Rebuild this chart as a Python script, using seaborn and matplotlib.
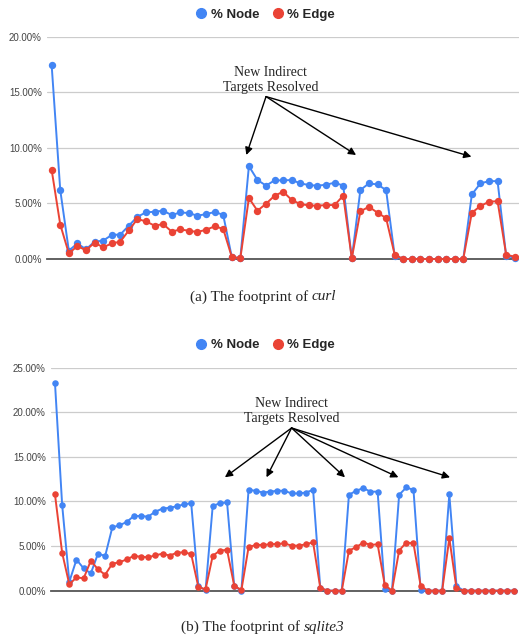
import pandas as pd
import matplotlib
matplotlib.use("Agg")
import matplotlib.pyplot as plt
from matplotlib.lines import Line2D
from matplotlib.ticker import FuncFormatter
import seaborn as sns

# values, in percent
curl_node = [17.4, 6.2, 0.75, 1.4, 0.87, 1.56, 1.65, 2.16, 2.2, 3.0,
             3.8, 4.19, 4.25, 4.34, 3.95, 4.19, 4.13, 3.89, 4.04, 4.22,
             3.98, 0.2, 0.05, 8.35, 7.1, 6.6, 7.07, 7.07, 7.1, 6.8,
             6.65, 6.59, 6.68, 6.86, 6.6, 0.05, 6.2, 6.8, 6.7, 6.2,
             0.3, 0, 0, 0, 0, 0, 0, 0, 0, 5.8,
             6.8, 7.0, 7.0, 0.3, 0.1]
curl_edge = [8.0, 3.1, 0.5, 1.17, 0.78, 1.47, 1.05, 1.4, 1.56, 2.57,
             3.6, 3.38, 3.0, 3.14, 2.46, 2.66, 2.54, 2.43, 2.63, 2.93,
             2.72, 0.2, 0.06, 5.48, 4.34, 4.97, 5.69, 6.05, 5.3, 4.94,
             4.82, 4.79, 4.85, 4.85, 5.7, 0.05, 4.28, 4.7, 4.16, 3.68,
             0.4, 0, 0, 0, 0, 0, 0, 0, 0, 4.16,
             4.76, 5.15, 5.2, 0.4, 0.2]

sqlite_node = [23.3, 9.64, 1.0, 3.48, 2.5, 1.94, 4.15, 3.89, 7.1, 7.33,
               7.7, 8.37, 8.37, 8.3, 8.86, 9.2, 9.3, 9.46, 9.68, 9.8,
               0.5, 0.05, 9.5, 9.8, 9.9, 0.5, 0, 11.3, 11.2, 11.0,
               11.1, 11.2, 11.2, 10.9, 10.9, 11.0, 11.3, 0.3, 0, 0,
               0, 10.75, 11.2, 11.5, 11.1, 11.1, 0.15, 0, 10.75, 11.57,
               11.3, 0.1, 0, 0, 0, 10.8, 0.52, 0, 0, 0,
               0, 0, 0, 0, 0]
sqlite_edge = [10.8, 4.26, 0.7, 1.5, 1.38, 3.36, 2.39, 1.79, 3.03, 3.18,
               3.51, 3.89, 3.81, 3.74, 3.96, 4.15, 3.93, 4.26, 4.3, 4.1,
               0.4, 0.15, 3.9, 4.5, 4.57, 0.56, 0.07, 4.87, 5.13, 5.13,
               5.2, 5.24, 5.3, 5.05, 5.05, 5.2, 5.43, 0.33, 0, 0,
               0, 4.5, 4.87, 5.4, 5.13, 5.2, 0.64, 0, 4.5, 5.4,
               5.3, 0.56, 0, 0, 0, 5.88, 0.26, 0, 0, 0,
               0, 0, 0, 0, 0]

series_names = ["% Node", "% Edge"]
colors = {"% Node": "#4285F4", "% Edge": "#EA4335"}

sns.set_style("white")
plt.rcParams["font.family"] = ["Liberation Sans", "DejaVu Sans"]

fig = plt.figure(figsize=(5.19, 6.44), dpi=100)
ax1 = fig.add_axes([0.0913, 0.5978, 0.9087, 0.3455])
ax2 = fig.add_axes([0.099, 0.0828, 0.898, 0.3463])


def draw(ax, node, edge, ymax, msize):
    df = pd.DataFrame({
        "x": list(range(len(node))) * 2,
        "value": node + edge,
        "series": [series_names[0]] * len(node) + [series_names[1]] * len(edge),
    })
    sns.lineplot(data=df, x="x", y="value", hue="series", hue_order=series_names,
                 palette=colors, marker="o", markersize=msize, markeredgewidth=0,
                 linewidth=1.4, ax=ax, legend=False, clip_on=False)
    ax.set_xlim(-0.5, len(node) - 0.5)
    ax.set_ylim(0, ymax)
    ax.set_yticks(range(0, ymax + 1, 5))
    ax.yaxis.set_major_formatter(FuncFormatter(lambda v, p: f"{v:.2f}%"))
    ax.set_xticks([])
    ax.set_xlabel("")
    ax.set_ylabel("")
    ax.grid(axis="y", color="#cccccc", linewidth=0.9)
    ax.set_axisbelow(True)
    for s in ["left", "right", "top"]:
        ax.spines[s].set_visible(False)
    ax.spines["bottom"].set_color("#555555")
    ax.spines["bottom"].set_linewidth(1.3)
    ax.spines["bottom"].set_zorder(1)
    ax.tick_params(axis="y", length=0, pad=4, labelsize=7, labelcolor="#444444")


draw(ax1, curl_node, curl_edge, 20, 5.3)
draw(ax2, sqlite_node, sqlite_edge, 25, 4.7)

# legends at the top of each panel
handles = [Line2D([], [], marker="o", linestyle="", color=colors[n], markersize=7)
           for n in series_names]
for ypos in [0.977, 0.464]:
    fig.legend(handles, series_names, loc="center", bbox_to_anchor=(0.51, ypos),
               ncol=2, frameon=False, handletextpad=0.25, columnspacing=0.9,
               handlelength=1.0,
               prop={"family": "Liberation Sans", "weight": "bold", "size": 9.5})

# annotations
arrow = dict(arrowstyle="-|>", color="black", lw=1.0, mutation_scale=11,
             shrinkA=0, shrinkB=0)
ax1.text(25.55, 16.1, "New Indirect\nTargets Resolved", ha="center", va="center",
         family="Liberation Serif", fontsize=10, linespacing=1.15)
for tx, ty in [(22.7, 9.35), (35.5, 9.35), (48.95, 9.2)]:
    ax1.annotate("", xy=(tx, ty), xytext=(25.0, 14.6), arrowprops=arrow)

ax2.text(33.0, 20.15, "New Indirect\nTargets Resolved", ha="center", va="center",
         family="Liberation Serif", fontsize=10, linespacing=1.15)
for tx in [23.7, 29.5, 40.45, 47.9, 55.1]:
    ax2.annotate("", xy=(tx, 12.71), xytext=(33.0, 18.24), arrowprops=arrow)


# captions: upright prefix followed by the italic program name
def caption(xc, yc, prefix, name):
    renderer = fig.canvas.get_renderer()
    t1 = fig.text(0, yc, prefix, ha="left", va="center",
                  family="Liberation Serif", fontsize=11)
    t2 = fig.text(0, yc, name, ha="left", va="center",
                  family="Liberation Serif", style="italic", fontsize=11)
    w1 = t1.get_window_extent(renderer).width / fig.bbox.width
    w2 = t2.get_window_extent(renderer).width / fig.bbox.width
    x0 = xc - (w1 + w2) / 2
    t1.set_x(x0)
    t2.set_x(x0 + w1)


caption(0.507, 1 - 297 / 644, "(a) The footprint of ", "curl")
caption(0.506, 1 - 627 / 644, "(b) The footprint of ", "sqlite3")

fig.savefig("out.png", dpi=100)
